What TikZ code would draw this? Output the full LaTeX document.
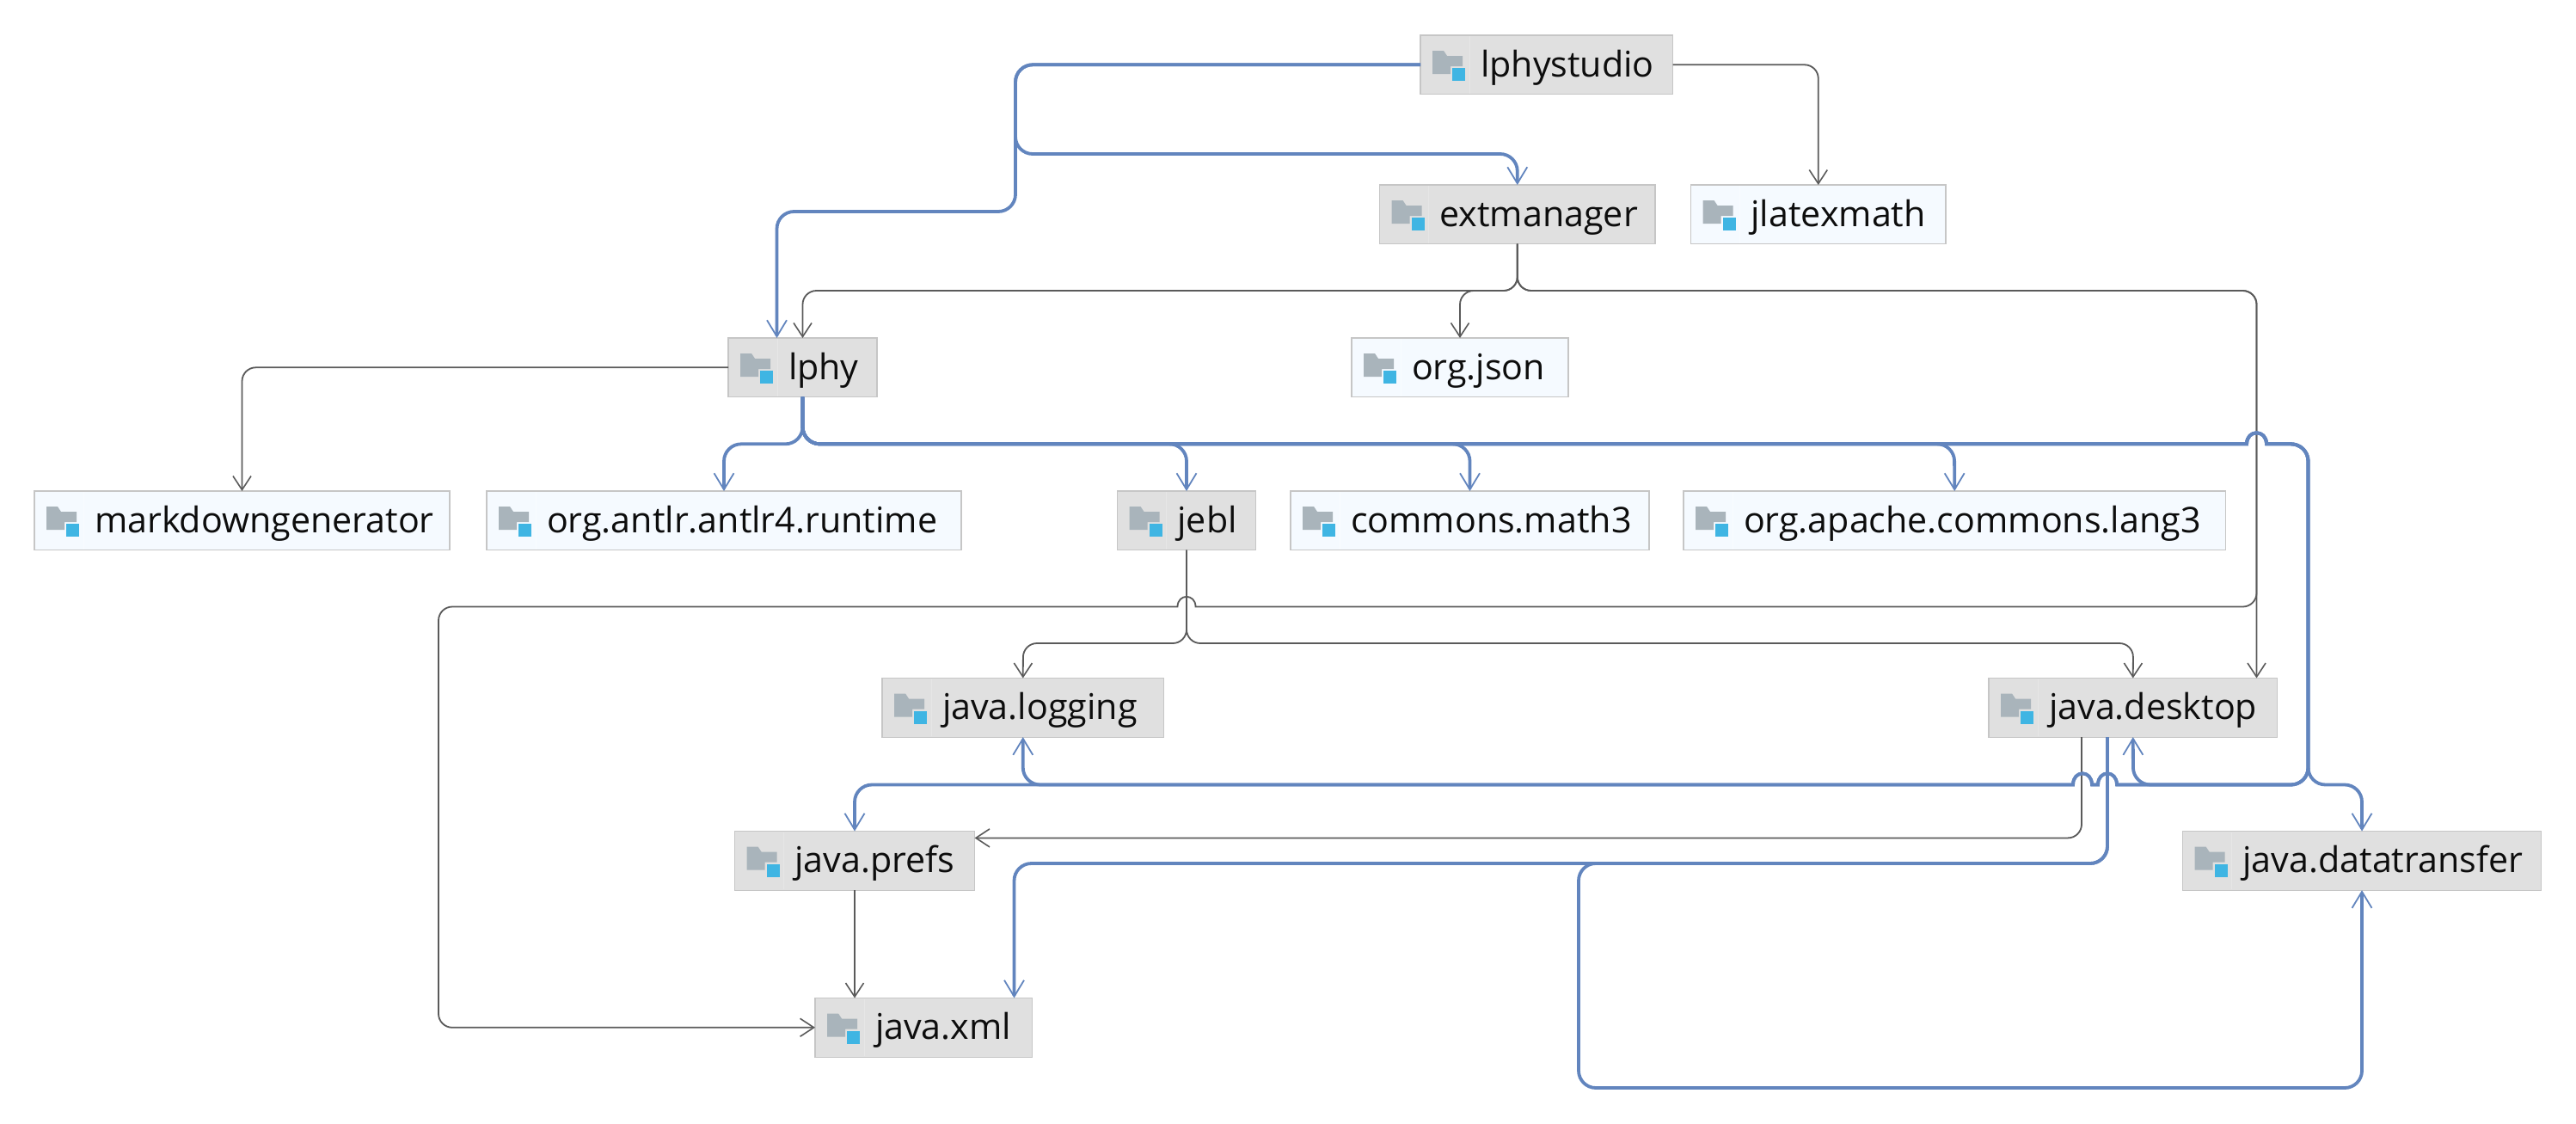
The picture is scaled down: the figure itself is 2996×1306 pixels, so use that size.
\documentclass[tikz,border=0pt]{standalone}
\usepackage{fontspec}
\setmainfont{Open Sans}
\usetikzlibrary{arrows.meta,calc}
\definecolor{edgegray}{HTML}{5A5A5A}
\definecolor{edgeblue}{HTML}{6285BE}
\definecolor{boxline}{HTML}{C6C6C6}
\definecolor{fillgray}{HTML}{E0E0E0}
\definecolor{fillpale}{HTML}{F5FAFF}
\definecolor{divgray}{HTML}{E6E6E6}
\definecolor{divpale}{HTML}{F9FCFF}
\definecolor{foldercol}{HTML}{A9B4BB}
\definecolor{squarecol}{HTML}{3FB5E3}
\tikzset{
  modbox/.style={draw=boxline,line width=0.6pt,rectangle,inner sep=0pt,outer sep=0pt,anchor=north west,
    minimum height=34.3pt,text height=24.15pt,text depth=10.15pt,font=\fontsize{20.6pt}{24pt}\selectfont,text=black!95},
  graybox/.style={modbox,fill=fillgray},
  palebox/.style={modbox,fill=fillpale},
  ge/.style={draw=edgegray,line width=0.9pt,rounded corners=8pt,-{Straight Barb[length=8pt,width=10.5pt,line width=0.8pt]}},
  be/.style={draw=edgeblue,line width=1.9pt,rounded corners=10pt,-{Straight Barb[length=9.5pt,width=11.5pt,line width=0.9pt]}},
}
% \modbox{name}{x1}{x2}{top}{style}{divider colour}{text}
\newcommand{\modbox}[7]{%
  \pgfmathsetmacro{\mboxw}{(#3-#2)*0.5}%
  \node[#5,minimum width=\mboxw pt] (#1) at (#2,#4) {\makebox[\mboxw pt][l]{\hspace{35pt}#7}};
  \begin{scope}[shift={(#2,#4)}]
    \draw[#6,line width=0.5pt] (57,1) -- (57,67.6);
    \fill[foldercol] (14,18) -- (27,18) -- (31,24) -- (49,24) -- (49,36) -- (35,36) -- (35,45) -- (14,45) -- cycle;
    \fill[squarecol] (37,38) rectangle (52,53);
  \end{scope}
}
\begin{document}
\begin{tikzpicture}[x=0.5pt,y=-0.5pt]
\useasboundingbox (0,0) rectangle (2996,1306);
\modbox{lphystudio}{1652}{1945.5}{41}{graybox}{divgray}{lphystudio}
\modbox{extmanager}{1604.5}{1925}{215}{graybox}{divgray}{extmanager}
\modbox{jlatexmath}{1966.5}{2263}{215}{palebox}{divpale}{jlatexmath}
\modbox{lphy}{847}{1020}{393}{graybox}{divgray}{lphy}
\modbox{orgjson}{1572}{1824}{393}{palebox}{divpale}{org.json}
\modbox{markdowngenerator}{40}{523}{571}{palebox}{divpale}{markdowngenerator}
\modbox{antlr}{566}{1118}{571}{palebox}{divpale}{org.antlr.antlr4.runtime}
\modbox{jebl}{1299.5}{1460.5}{571}{graybox}{divgray}{jebl}
\modbox{commons}{1501}{1918}{571}{palebox}{divpale}{commons.math3}
\modbox{apache}{1958}{2588.5}{571}{palebox}{divpale}{org.apache.commons.lang3}
\modbox{logging}{1026}{1353.5}{788.5}{graybox}{divgray}{java.logging}
\modbox{desktop}{2313}{2648.5}{788.5}{graybox}{divgray}{java.desktop}
\modbox{prefs}{854.5}{1133.5}{966.5}{graybox}{divgray}{java.prefs}
\modbox{datatransfer}{2538.5}{2955.5}{966.5}{graybox}{divgray}{java.datatransfer}
\modbox{xml}{948}{1200.5}{1160.5}{graybox}{divgray}{java.xml}

% gray connectors
\draw[ge] (lphystudio.east) -| (jlatexmath.north);
\draw[ge] (extmanager.south) |- (933.5,338) -- (lphy.north);
\draw[ge] (extmanager.south) |- (1698,338) -- (orgjson.north);
\draw[ge] (extmanager.south) |- (2624.5,338) -- (2624.5,0 |- desktop.north);
\draw[ge] (extmanager.south) |- (2624.5,338) -- (2624.5,705.5) -- (1500,705.5) [sharp corners] -- (1390.5,705.5)
   .. controls (1390.5,690) and (1369.5,690) .. (1369.5,705.5) -- (1200,705.5) [rounded corners=8pt] -- (510,705.5) -- (510,1194.8) -- (xml.west);
\draw[ge] (lphy.west) -| (markdowngenerator.north);
\draw[ge] (jebl.south) |- (1190,748) -- (logging.north);
\draw[ge] (jebl.south) |- (2481,748) -- (desktop.north);
\draw[ge] (2421,0 |- desktop.south) |- (prefs.east |- 0,974.4);
\draw[ge] (prefs.south) -- (994,0 |- xml.north);

% blue connectors
\draw[be] (lphystudio.west) -| (1181,246) -| (903.5,0 |- lphy.north);
\draw[be] (lphystudio.west) -| (1181,179) -| (extmanager.north);
\draw[be] (lphy.south) |- (842,516.3) -- (antlr.north);
\draw[be] (lphy.south) |- (1380,516.3) -- (jebl.north);
\draw[be] (lphy.south) |- (1709.5,516.3) -- (commons.north);
\draw[be] (lphy.south) |- (2273,516.3) -- (apache.north);
\draw[be] (lphy.south) |- (2400,516.3) [sharp corners] -- (2613,516.3) .. controls (2613,499) and (2636,499) .. (2636,516.3)
   -- (2650,516.3) [rounded corners=10pt] -- (2684.5,516.3) -- (2684.5,912.5) -- (2481,912.5) -- (desktop.south);
\draw[be] (lphy.south) |- (2400,516.3) [sharp corners] -- (2613,516.3) .. controls (2613,499) and (2636,499) .. (2636,516.3)
   -- (2650,516.3) [rounded corners=10pt] -- (2684.5,516.3) -- (2684.5,912.5) -- (2600,912.5) [sharp corners] -- (2462,912.5) .. controls (2462,895) and (2440,895) .. (2440,912.5)
   -- (2433,912.5) .. controls (2433,895) and (2411,895) .. (2411,912.5) -- (1300,912.5) [rounded corners=10pt] -- (1189.75,912.5) -- (logging.south);
\draw[be] (lphy.south) |- (2400,516.3) [sharp corners] -- (2613,516.3) .. controls (2613,499) and (2636,499) .. (2636,516.3)
   -- (2650,516.3) [rounded corners=10pt] -- (2684.5,516.3) -- (2684.5,912.5) -- (2600,912.5) [sharp corners] -- (2462,912.5) .. controls (2462,895) and (2440,895) .. (2440,912.5)
   -- (2433,912.5) .. controls (2433,895) and (2411,895) .. (2411,912.5) -- (1300,912.5) [rounded corners=10pt] -- (994,912.5) -- (prefs.north);
\draw[be] (lphy.south) |- (2400,516.3) [sharp corners] -- (2613,516.3) .. controls (2613,499) and (2636,499) .. (2636,516.3)
   -- (2650,516.3) [rounded corners=10pt] -- (2684.5,516.3) -- (2684.5,912.5) -- (2747,912.5) -- (datatransfer.north);
\draw[be] (2451,0 |- desktop.south) |- (1179.5,1004) -- (1179.5,0 |- xml.north);
\draw[be] (2451,0 |- desktop.south) |- (1836,1004) -- (1836,1265) -| (datatransfer.south);
\end{tikzpicture}
\end{document}
